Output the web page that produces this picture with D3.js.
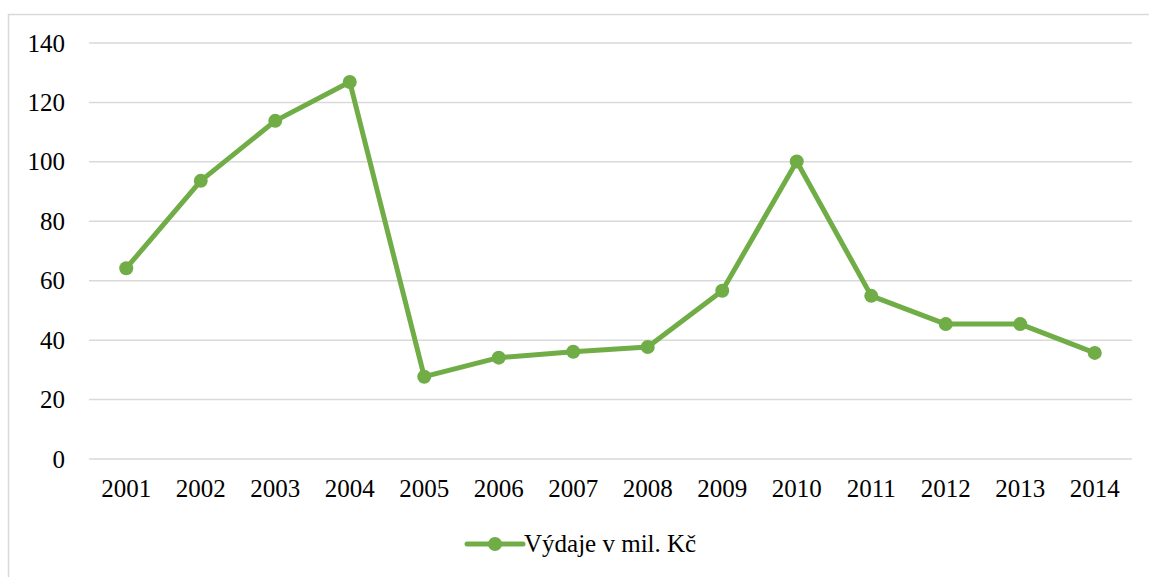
<!DOCTYPE html>
<html lang="cs">
<head>
  <meta charset="UTF-8">
  <title>Výdaje v mil. Kč</title>
  <script src="https://d3js.org/d3.v7.min.js"></script>
  <style>
    body { margin: 0; background: #fff; }
    .axis path, .axis line { display: none; }
    .grid line { stroke: #d9d9d9; stroke-width: 1.5; }
  </style>
</head>
<body>
<svg width="1149" height="577"></svg>
<script>
  const years = ["2001","2002","2003","2004","2005","2006","2007","2008","2009","2010","2011","2012","2013","2014"];
  const values = [64.2, 93.6, 113.8, 126.9, 27.7, 34.1, 36.1, 37.7, 56.6, 100.1, 54.9, 45.4, 45.4, 35.7];
  const yTicks = [0, 20, 40, 60, 80, 100, 120, 140];
  const seriesName = "Výdaje v mil. Kč";
  const green = "#70ad47";
  const serif = "'Liberation Serif', 'Times New Roman', serif";

  const width = 1149, height = 577;
  const margin = {top: 43, right: 17, bottom: 118, left: 89};

  const svg = d3.select("svg");

  // outer chart frame
  svg.append("rect")
    .attr("x", 8.5).attr("y", 14.5)
    .attr("width", width + 10).attr("height", height + 10)
    .attr("fill", "none").attr("stroke", "#d9d9d9").attr("stroke-width", 1.5);

  const x = d3.scaleBand().domain(years).range([margin.left, width - margin.right]);
  const y = d3.scaleLinear().domain([0, 140]).range([height - margin.bottom, margin.top]);

  svg.append("g").attr("class", "grid")
    .selectAll("line").data(yTicks).join("line")
    .attr("x1", margin.left).attr("x2", width - margin.right)
    .attr("y1", d => y(d)).attr("y2", d => y(d));

  svg.append("g").attr("class", "axis")
    .attr("transform", `translate(${margin.left},0)`)
    .call(d3.axisLeft(y).tickValues(yTicks).tickSize(0).tickPadding(24))
    .attr("font-family", serif).attr("font-size", 25)
    .selectAll("text").attr("fill", "#000");

  svg.append("g").attr("class", "axis")
    .attr("transform", `translate(0,${height - margin.bottom})`)
    .call(d3.axisBottom(x).tickSize(0).tickPadding(20))
    .attr("font-family", serif).attr("font-size", 25)
    .selectAll("text").attr("fill", "#000");

  const line = d3.line()
    .x((d, i) => x(years[i]) + x.bandwidth() / 2)
    .y(d => y(d));

  svg.append("path").datum(values)
    .attr("d", line)
    .attr("fill", "none").attr("stroke", green)
    .attr("stroke-width", 5).attr("stroke-linejoin", "round");

  svg.append("g").selectAll("circle").data(values).join("circle")
    .attr("cx", (d, i) => x(years[i]) + x.bandwidth() / 2)
    .attr("cy", d => y(d))
    .attr("r", 7)
    .attr("fill", green);

  // legend
  const lg = svg.append("g").attr("transform", "translate(467,544)");
  lg.append("line").attr("x1", 0).attr("x2", 56)
    .attr("stroke", green).attr("stroke-width", 5).attr("stroke-linecap", "round");
  lg.append("circle").attr("cx", 28).attr("r", 7).attr("fill", green);
  lg.append("text").attr("x", 57).attr("y", 8)
    .attr("font-family", serif).attr("font-size", 25).text(seriesName);
</script>
</body>
</html>
